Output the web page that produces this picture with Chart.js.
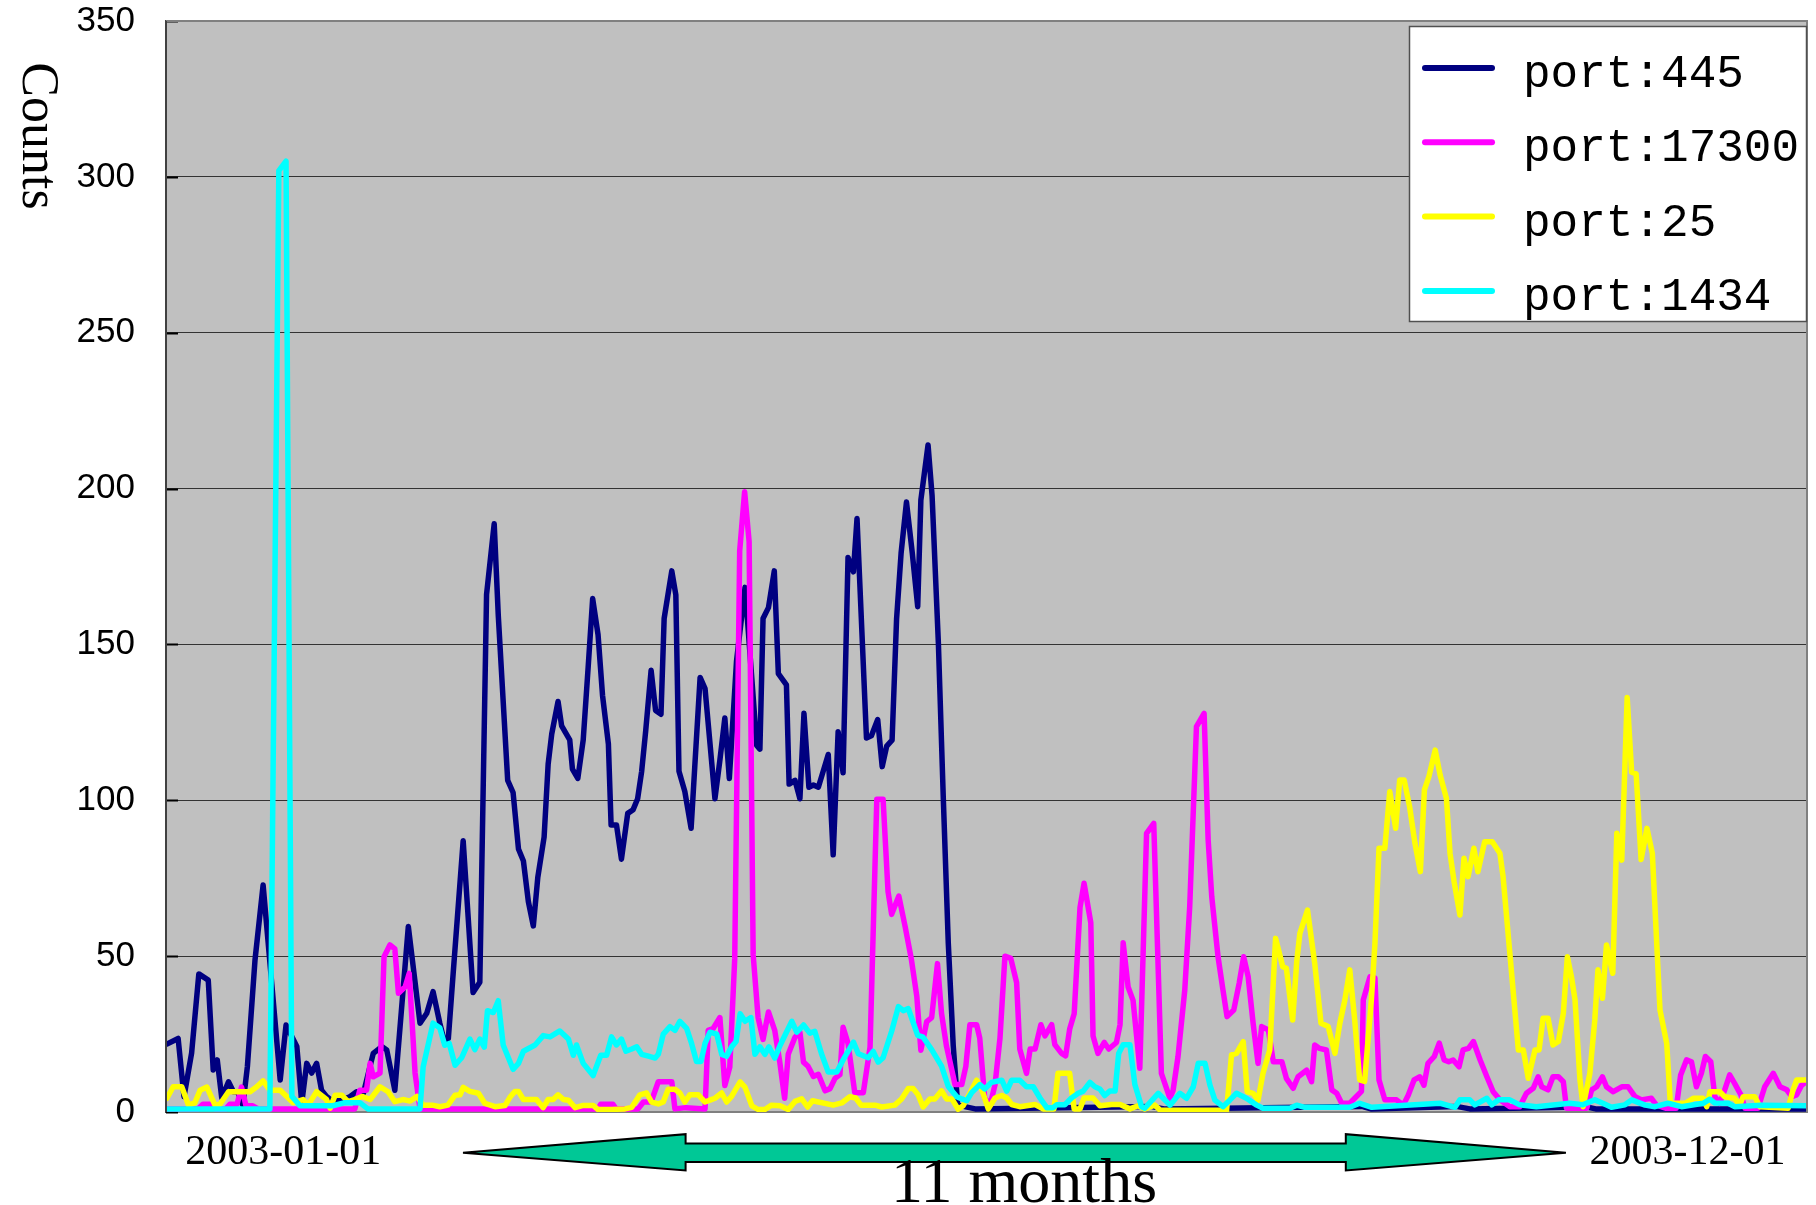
<!DOCTYPE html>
<html>
<head>
<meta charset="utf-8">
<script src="https://cdn.jsdelivr.net/npm/chart.js@4.4.1/dist/chart.umd.min.js"></script>
<style>html,body{margin:0;padding:0;background:#fff;}canvas{display:block;}</style>
</head>
<body>
<canvas id="c" width="1816" height="1205"></canvas>
<script>
// ---- data (x = day index along the axis, y = counts) ----
const seriesLabels = ['port:445', 'port:17300', 'port:25', 'port:1434'];
const seriesColors = ['#000080', '#FF00FF', '#FFFF00', '#00FFFF'];

const port445 = [[0.2,21.8],[2.7,23.6],[4.0,4.9],[5.7,18.9],[7.3,44.3],[9.4,42.3],[10.5,13.5],[11.4,16.7],[12.4,4.5],[13.9,9.7],[15.0,6.5],[15.9,6.5],[17.1,2.2],[18.1,14.5],[19.8,48.8],[21.6,72.8],[25.4,10.3],[26.7,27.9],[29.1,21],[30.2,2.9],[31.3,15.6],[32.4,12.5],[33.5,15.6],[34.6,7],[35.7,5],[37.2,3.3],[39.1,3.9],[40.9,4.9],[42.4,6.5],[43.9,6],[46.1,18.8],[48.0,21],[49.1,19.9],[50.9,7],[53.9,59.5],[56.5,28.5],[58.0,31.7],[59.4,38.6],[60.9,28.5],[62.0,22.1],[62.8,23.6],[63.9,45],[66.1,87],[68.3,38.3],[69.8,41.6],[71.3,166],[73.0,188.7],[73.9,159.5],[76.0,106.4],[77.2,102.5],[78.4,84.4],[79.5,80.5],[80.6,67.5],[81.7,59.7],[82.7,75.3],[84.1,88.2],[85.0,111.6],[85.8,121.3],[87.2,131.7],[88.0,123.9],[89.8,119.4],[90.4,110],[91.6,107],[92.8,119.4],[93.9,142.7],[94.9,164.7],[96.1,153.1],[97.1,133.6],[98.4,118],[99.0,92.1],[100.2,92.1],[101.3,81.1],[102.7,95.8],[103.9,97],[104.9,100.5],[105.8,109.3],[106.7,122.3],[107.9,141.7],[108.9,128.8],[110.1,127.6],[110.8,158.3],[112.5,173.6],[113.4,165.9],[114.1,109.3],[115.4,102.8],[116.8,91],[117.6,110.5],[118.8,139.4],[119.9,135.8],[121.0,118.2],[122.1,100.5],[123.2,112.9],[124.3,126.4],[125.3,107],[126.9,144.7],[128.8,168.3],[131.4,117.6],[132.1,116.4],[132.8,158.3],[134.0,161.8],[135.3,173.6],[136.2,140.6],[138.0,137],[138.6,105.2],[139.9,106.4],[141.0,100.5],[141.9,127.9],[143.0,104.2],[144.0,104.9],[145.1,104.2],[147.3,114.7],[148.4,82.5],[149.5,122],[150.6,108.8],[151.7,177.9],[152.9,173.3],[153.7,190.4],[155.8,120],[156.9,120.7],[158.3,125.9],[159.3,110.8],[160.3,117.4],[161.5,119.3],[162.5,158.2],[163.5,179.2],[164.7,195.7],[166.0,179.2],[167.2,162.1],[167.9,196.3],[169.5,214],[170.4,197.6],[171.8,150.3],[172.9,100.3],[174.0,54.2],[175.1,21.3],[176.1,2.2],[180,1],[219,1.8],[222,1],[266,1.8],[268,1],[287,1.8],[290,1],[316,1.6],[318,1],[365,1]];

const port17300 = [[0,1],[7.1,1],[8.2,2.5],[9.8,2.5],[10.9,1],[13.3,1],[14.2,2.5],[15.8,2.5],[16.8,8],[17.8,2],[19.3,2],[20.5,1],[42.0,1],[43.1,7],[44.6,7],[45.4,15.6],[46.1,11.3],[47.6,12.5],[48.5,49.8],[49.8,53.6],[50.9,52.3],[51.7,38.1],[53.2,40.2],[54.1,44.5],[55.4,12.5],[56.5,1],[96.1,1],[96.7,2.5],[99.4,2.5],[100.1,1],[105.0,1],[106.2,3.2],[107.9,3.2],[109.5,9.7],[112.5,9.7],[113.2,1],[115.6,1.4],[119.9,1],[120.6,26.2],[121.7,26.8],[123.2,30.3],[124.3,8.5],[125.4,14.4],[126.5,49.2],[127.6,180],[128.7,199],[129.7,183],[130.6,50.4],[131.7,30.3],[132.8,23.3],[134.0,32.1],[135.4,26.2],[136.5,16.2],[137.6,4.4],[138.4,18.5],[139.9,24],[141.0,25.5],[141.8,16],[142.8,14.7],[144.0,11.4],[145.1,12.1],[146.6,6.8],[147.7,7.5],[148.8,10.8],[149.9,12],[150.6,27.2],[151.7,22],[153.2,6.2],[155.1,6.2],[156.6,20.8],[158.1,100.3],[159.5,100.3],[160.6,70.7],[161.4,63.4],[163.0,69.3],[164.4,59.5],[165.8,48.9],[167.0,37.1],[167.9,19.8],[169.2,29],[170.3,30.3],[171.6,47.6],[172.5,31.6],[173.6,21.1],[174.4,16],[175.5,8.8],[177.0,8.8],[177.9,14.6],[178.8,28],[180.3,28],[181.0,23.7],[182.1,4.5],[183.3,2.3],[184.4,8.8],[185.5,23.7],[186.6,50],[187.9,49.3],[189.2,41.5],[189.9,20.2],[191.4,12.4],[192.2,20.2],[193.3,20.2],[194.6,28],[195.5,24.4],[197.0,28],[197.7,21.6],[199.2,18.8],[200.1,18],[201.0,26.6],[202.0,31.5],[203.3,65.6],[204.2,73.4],[205.7,60.7],[206.2,24.4],[207.3,18.8],[208.7,22.3],[209.7,20.2],[211.4,22.3],[212.2,28],[212.9,54.3],[214.0,40.1],[215.1,35.8],[216.6,14],[218.1,89.4],[219.7,92.6],[221.4,12.4],[223.3,4.4],[224.0,6.9],[225.1,17.8],[226.6,39.1],[227.7,65.9],[229.2,123.6],[230.9,127.9],[231.8,87.3],[232.6,69.1],[234.0,49.8],[235.1,39.1],[236.0,30.6],[237.5,32.7],[238.7,41.3],[239.7,49.8],[240.7,43.4],[241.8,28.5],[242.9,15.6],[243.7,27.4],[245.2,26.3],[246.3,16.1],[248.2,16.1],[249.2,10.8],[250.7,7.6],[251.8,11.3],[253.7,13.4],[254.8,9.7],[255.5,21.5],[256.6,20.4],[258.1,19.9],[259.3,7.1],[260.4,6],[261.5,2.8],[263.3,2.8],[264.4,4.4],[265.9,6.6],[266.3,35.9],[267.8,43.4],[268.9,43],[269.8,10.3],[271.1,3.9],[273.7,3.9],[275.2,2.2],[276.3,5.4],[277.6,10.3],[278.9,11.3],[279.8,8.6],[280.7,15.6],[282.1,17.8],[283.2,22.1],[284.3,16.7],[285.3,16.1],[286.3,16.7],[287.6,14.5],[288.5,19.9],[289.7,20.4],[290.8,22.6],[292.3,16.7],[293.8,11.3],[295.2,6.5],[296.7,3.9],[298.9,1.7],[301.1,1.7],[302.6,6],[304.1,7.6],[305.2,11.3],[306.0,8.1],[307.4,7.1],[308.5,11.3],[309.7,11.3],[310.8,9.7],[311.5,1.2],[316.0,1.2],[317.1,7.1],[318.2,8.1],[319.5,11.3],[320.4,8.1],[321.9,6.5],[323.8,8.1],[325.2,8.1],[326.7,5],[328.2,3.9],[330.4,4.4],[331.5,2.2],[333.7,1.2],[335.9,1.2],[336.9,11.9],[338.2,16.7],[339.3,16.1],[340.4,8.1],[341.5,12.4],[342.4,17.8],[343.6,16.1],[344.5,4.9],[345.6,2.8],[346.7,7.1],[347.8,11.9],[348.9,9.2],[350.3,5.5],[351.2,1.2],[354.1,1.2],[355.6,8.1],[357.5,12.4],[359.0,8.1],[360.5,7.1],[361.6,4.9],[362.7,5.5],[363.8,8.6],[364.9,9.7]];

const port25 = [[0.2,4.4],[1.6,8.1],[3.5,8.1],[5.0,2.2],[6.4,2.9],[7.6,7],[9.1,8],[10.9,2.2],[12.0,2.5],[13.9,6.5],[18.7,6.5],[20.2,8.1],[21.6,10],[23.1,7],[25.4,7],[28.3,3],[30.5,4],[31.6,2.2],[33.5,6.5],[35.7,4],[36.5,1.2],[37.6,5.4],[39.1,5.4],[40.5,3.3],[42.0,4],[43.6,5],[45.4,4],[47.6,8.1],[49.4,6.5],[50.9,3.3],[52.7,4],[54.3,3.5],[55.8,5],[57.2,2.2],[59.2,2.2],[60.9,1.7],[62.7,2.2],[64.3,5.4],[65.4,5.5],[66.1,7.9],[67.6,6.6],[69.5,6],[70.9,2.8],[73.2,1.7],[75.4,2.1],[76.5,4.7],[77.6,6.6],[78.4,6.6],[79.5,4],[82.4,4],[83.9,1.4],[85.0,4],[86.1,4],[87.2,5.5],[88.4,4],[89.5,3.8],[91.0,1.4],[92.8,2.1],[95.0,2.1],[96.1,0.8],[99.1,0.8],[102.1,1],[103.6,1.5],[105.4,5.5],[106.9,6.1],[108.0,3.2],[109.5,2.6],[110.6,3.2],[111.7,7.3],[113.2,7.3],[114.3,6.1],[115.4,3.2],[116.5,5.5],[118.4,5.5],[119.9,3.2],[121.0,3.8],[122.1,4.4],[123.6,6.1],[124.7,3.2],[125.8,5],[127.7,9.7],[128.8,7.9],[130.3,2],[131.7,0.8],[133.2,0.8],[134.7,2.2],[136.6,2],[138.4,0.8],[139.9,3.4],[141.4,4.2],[142.7,1.6],[143.8,3.6],[148.4,2.2],[150.3,2.9],[152.1,4.9],[153.4,4.5],[154.6,2.2],[157.7,2.2],[159.2,1.6],[162.1,2.2],[163.6,4.2],[165.1,7.5],[166.2,7.5],[167.3,5.5],[168.4,1.6],[169.9,4.2],[171.0,4.2],[172.5,6.8],[173.6,4.2],[174.8,4.2],[176.2,0.9],[177.3,2],[178.8,6],[180.3,10.2],[181.4,7.4],[182.9,1],[184.4,4.5],[185.9,5.3],[187.0,4.5],[188.1,2.4],[189.9,1.7],[193.3,2.4],[195.1,1],[197.5,1],[198.4,12.4],[201.0,12.4],[202.0,1],[203.3,1],[204.2,4.5],[206.2,4.5],[207.7,2],[210.3,2.4],[212.2,2.4],[214.4,1],[216.2,2],[217.7,1],[219.9,2.2],[221.1,0.6],[235.9,0.6],[237.0,18.3],[238.1,18.8],[239.6,22.6],[240.5,6.5],[241.8,6],[242.9,3.8],[244.0,12.4],[245.5,19.9],[246.8,55.7],[248.4,46.6],[249.2,46.1],[250.6,29.5],[251.5,48.2],[252.2,57.3],[253.9,64.8],[255.5,47.7],[256.9,28.5],[258.5,27.4],[260.0,18.8],[261.1,28.5],[262.2,35.9],[263.3,45.6],[264.4,29.5],[265.5,10.3],[266.6,9.8],[268.1,35.9],[268.9,54.1],[269.8,84.6],[271.1,84.6],[272.2,102.8],[273.5,91],[274.4,106.5],[275.4,106.5],[276.6,98],[277.8,86.2],[279.0,77.1],[279.9,103.3],[280.9,107.6],[282.3,116.1],[283.4,108.1],[284.8,100.6],[285.6,83],[286.5,73.9],[287.8,63.2],[288.7,81.4],[289.6,75.5],[290.9,84.6],[291.8,77.1],[293.3,86.7],[295.0,86.7],[296.7,83],[297.4,75.5],[300.8,19.9],[301.9,19.9],[303.0,10.8],[304.5,19.9],[305.4,19.9],[306.3,30.1],[307.4,30.1],[308.5,21.5],[309.7,22.6],[310.8,31.7],[311.7,49.8],[312.6,43.4],[313.4,36],[314.5,10.3],[315.2,1.7],[316.7,12.4],[317.8,29.5],[318.5,45.6],[319.5,36.5],[320.4,53.6],[321.8,44.5],[322.7,89.4],[323.8,80.8],[325.0,133],[326.0,109],[327.0,108.5],[328.1,81],[329.4,91],[330.6,83],[332.3,32.7],[333.8,22],[334.6,2.8],[337.9,2.8],[339.7,4.4],[341.9,4.4],[342.7,1.7],[343.4,6.5],[345.6,6.5],[346.7,4.9],[348.9,4.4],[350.0,2.2],[350.8,4.9],[353.4,4.9],[354.5,1.7],[360.8,1.2],[361.9,7.1],[362.7,10.3],[364.9,10.3]];

const port1434 = [[0,1],[23.1,1],[25.1,302],[26.7,305],[28.0,5],[29.8,2],[37.1,2],[39.8,3],[43.1,3],[44.9,1],[56.5,1],[57.2,14.5],[59.4,28.5],[60.9,27],[62.0,21.4],[63.0,22],[64.3,15],[65.8,17.5],[67.6,23.4],[68.7,20],[69.8,23.4],[70.8,20.8],[71.5,32.5],[72.8,31.9],[73.9,35.7],[75.0,21.5],[77.2,13.7],[78.4,15.6],[79.5,19.5],[82.1,21.5],[83.9,24.5],[85.4,24.1],[87.6,26],[89.5,23.4],[90.6,18.2],[91.3,21.5],[92.8,15.6],[95.0,11.7],[96.7,18.2],[98.0,18.2],[99.1,24.1],[100.2,21.5],[101.3,23.4],[102.3,19.5],[103.6,20.2],[104.7,20.9],[105.8,18.5],[107.3,17.9],[108.8,17.3],[109.5,18.5],[110.6,25],[112.1,27.4],[113.2,26.2],[114.3,29.1],[115.8,26.8],[116.9,22],[118.0,16.2],[119.0,16.2],[119.9,22],[121.0,25.6],[122.5,25],[123.6,18.5],[124.7,17.9],[125.8,20.9],[126.8,22.6],[127.7,31.5],[128.8,29.1],[130.1,30.3],[131.0,18.5],[132.1,20.9],[133.2,18.5],[134.1,20.9],[135.4,17.3],[136.6,21.4],[138.0,25.6],[139.2,29.1],[140.3,25.6],[141.8,27.9],[143.2,25.3],[144.3,25.9],[145.8,18.7],[147.3,12.8],[149.2,12.8],[150.6,16.7],[152.9,22.4],[154.0,18.7],[156.2,17.4],[157.3,19.4],[158.4,16],[159.5,17.4],[161.4,25.9],[162.9,33.8],[164.0,32.5],[165.1,33.2],[167.2,24.6],[168.4,24],[170.3,20],[172.5,14.7],[174.0,8.2],[175.9,4.9],[177.0,4.2],[178.1,3.6],[179.2,6.2],[181.0,8.8],[182.1,7.4],[183.6,9.5],[185.9,10.2],[187.0,6.7],[188.1,10.2],[189.9,10.2],[191.4,8.1],[192.9,8.1],[194.4,4.5],[195.9,1.4],[197.3,1.4],[198.1,2.3],[199.9,2.3],[201.4,4.5],[202.9,6],[204.0,6.7],[205.5,9.5],[206.6,8.1],[207.7,7.4],[208.8,5.3],[209.9,6.7],[211.1,6.7],[211.9,18.8],[212.9,21.6],[214.4,21.6],[215.5,8.8],[217.0,1.7],[217.7,1.2],[220.7,6],[221.8,4.4],[223.3,2.2],[225.5,6],[227.0,4.4],[228.5,8.1],[229.6,15.6],[231.1,15.6],[232.2,8.6],[233.3,3.8],[235.1,1.7],[236.6,3.8],[238.1,6],[240.3,4.4],[242.6,2.2],[244.0,1.2],[250.0,1.2],[251.5,2.2],[253.3,1.5],[263.3,1.5],[265.5,2.8],[268.2,1.5],[283.4,2.8],[286.7,1.5],[287.8,3.9],[290.0,3.9],[291.1,2.3],[293.8,4.4],[294.9,2.3],[296.4,3.9],[298.9,3.9],[301.1,2.3],[304.8,1.7],[312.2,2.8],[315.1,2.3],[317.8,3.9],[319.6,2.8],[321.5,1.5],[324.5,2.3],[326.0,3.9],[329.0,2.2],[331.2,1.7],[334.1,2.8],[337.1,1.7],[341.9,2.8],[343.4,4.1],[344.5,2.9],[347.5,2.8],[348.9,1.7],[354.8,2.2],[364.9,2]];

const seriesData = [port445, port17300, port25, port1434];
const seriesOrder = [4, 3, 2, 1]; // drawing: cyan on top, navy at the bottom

const xTickDays = [26.1, 338.4];
const xTickLabels = ['2003-01-01', '2003-12-01'];
const yAxisTitle = 'Counts';
const spanLabel = '11 months';

// ---- plugins ----
const plotBg = {
  id: 'plotBg',
  beforeDraw(chart) {
    const {ctx, chartArea: a} = chart;
    ctx.save();
    ctx.fillStyle = '#C0C0C0';
    ctx.fillRect(a.left, a.top, a.right - a.left, a.bottom - a.top);
    ctx.restore();
  },
  beforeDatasetsDraw(chart) {
    const {ctx, chartArea: a, scales} = chart;
    const ys = scales.y;
    ctx.save();
    ctx.strokeStyle = '#000';
    ctx.lineWidth = 2;
    ys.ticks.forEach(t => {
      const py = Math.round(ys.getPixelForValue(t.value)) + 0.5;
      ctx.beginPath(); ctx.moveTo(a.left, py); ctx.lineTo(a.left + 12, py); ctx.stroke();
    });
    ctx.restore();
  },
  afterDatasetsDraw(chart) {
    const {ctx, chartArea: a} = chart;
    ctx.save();
    ctx.strokeStyle = '#808080';
    ctx.lineWidth = 2;
    ctx.beginPath();
    ctx.moveTo(a.left, a.top); ctx.lineTo(a.right, a.top); ctx.lineTo(a.right, a.bottom);
    ctx.stroke();
    ctx.strokeStyle = '#404040';
    ctx.beginPath(); ctx.moveTo(a.left, a.top); ctx.lineTo(a.left, a.bottom); ctx.stroke();
    ctx.restore();
  }
};

const boxLegend = {
  id: 'boxLegend',
  afterDraw(chart) {
    const {ctx, chartArea: a} = chart;
    const bw = 398, bh = 296;
    const bx = a.right - bw, by = a.top + 5;
    ctx.save();
    ctx.fillStyle = '#fff';
    ctx.fillRect(bx, by, bw, bh);
    ctx.strokeStyle = '#505050';
    ctx.lineWidth = 1.5;
    ctx.strokeRect(bx + 0.5, by + 0.5, bw - 1, bh - 1);
    chart.data.datasets.forEach((ds, i) => {
      const y = by + 42 + i * 74.3;
      ctx.strokeStyle = ds.borderColor;
      ctx.lineWidth = 6;
      ctx.lineCap = 'round';
      ctx.beginPath(); ctx.moveTo(bx + 16, y); ctx.lineTo(bx + 83, y); ctx.stroke();
      ctx.fillStyle = '#000';
      ctx.font = '46px "Liberation Mono"';
      ctx.textAlign = 'left';
      ctx.textBaseline = 'alphabetic';
      ctx.fillText(ds.label, bx + 114, y + 19);
    });
    ctx.restore();
  }
};

const annotations = {
  id: 'annotations',
  afterDraw(chart) {
    const {ctx} = chart;
    ctx.save();
    // rotated axis title
    ctx.translate(37, 136);
    ctx.rotate(Math.PI / 2);
    ctx.fillStyle = '#000';
    ctx.font = '52px "Liberation Serif"';
    ctx.textAlign = 'center';
    ctx.textBaseline = 'middle';
    ctx.fillText(yAxisTitle, 0, 0);
    ctx.restore();

    // double-headed block arrow
    ctx.save();
    const yc = 1152.7;
    const pts = [[463, yc], [685.6, 1134.2], [685.6, 1143.6], [1345.8, 1143.6], [1345.8, 1134.2],
                 [1565.9, yc], [1345.8, 1170.5], [1345.8, 1162], [685.6, 1162], [685.6, 1170.5]];
    ctx.beginPath();
    pts.forEach((p, i) => i ? ctx.lineTo(p[0], p[1]) : ctx.moveTo(p[0], p[1]));
    ctx.closePath();
    ctx.fillStyle = '#00C896';
    ctx.fill();
    ctx.strokeStyle = '#000';
    ctx.lineWidth = 2;
    ctx.lineJoin = 'miter';
    ctx.stroke();
    ctx.fillStyle = '#000';
    ctx.font = '64px "Liberation Serif"';
    ctx.textAlign = 'center';
    ctx.textBaseline = 'alphabetic';
    ctx.fillText(spanLabel, 1024, 1202);
    ctx.restore();
  }
};

new Chart(document.getElementById('c'), {
  type: 'line',
  data: {
    datasets: seriesData.map((s, i) => ({
      label: seriesLabels[i],
      data: s.map(p => ({x: p[0], y: p[1]})),
      borderColor: seriesColors[i],
      backgroundColor: seriesColors[i],
      borderWidth: 5.5,
      pointRadius: 0,
      tension: 0,
      fill: false,
      borderJoinStyle: 'round',
      borderCapStyle: 'round',
      order: seriesOrder[i]
    }))
  },
  options: {
    responsive: false,
    animation: false,
    devicePixelRatio: 1,
    layout: {padding: {top: 21, right: 9, left: 0, bottom: 0}},
    plugins: {legend: {display: false}, tooltip: {enabled: false}},
    scales: {
      x: {
        type: 'linear',
        min: 0, max: 365,
        grid: {display: false, drawTicks: false},
        border: {display: true, color: '#808080', width: 2},
        afterBuildTicks(scale) { scale.ticks = xTickDays.map(v => ({value: v})); },
        afterFit(scale) { scale.height = 93; scale.paddingLeft = 0; scale.paddingRight = 0; },
        ticks: {
          autoSkip: false, maxRotation: 0, minRotation: 0,
          padding: 16,
          color: '#000',
          font: {family: '"Liberation Serif"', size: 42},
          callback: (v, i) => xTickLabels[i]
        }
      },
      y: {
        min: 0, max: 350,
        grid: {color: '#333333', lineWidth: 1, drawTicks: false},
        border: {display: true, color: '#404040', width: 2},
        afterFit(scale) { scale.width = 166; scale.paddingTop = 0; scale.paddingBottom = 0; },
        ticks: {
          stepSize: 50,
          padding: 31,
          color: '#000',
          font: {family: '"Liberation Sans"', size: 35}
        }
      }
    }
  },
  plugins: [plotBg, boxLegend, annotations]
});
</script>
</body>
</html>
